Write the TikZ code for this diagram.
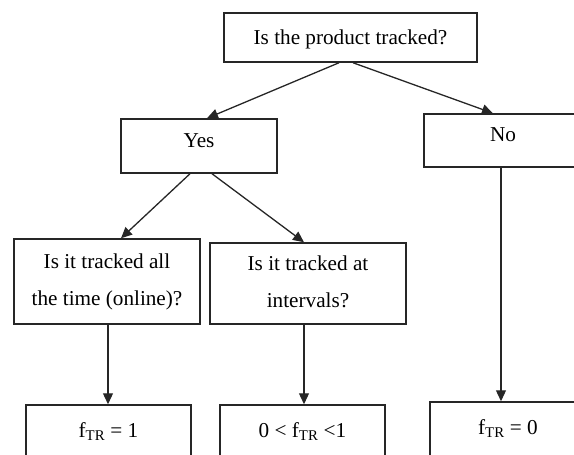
\documentclass[tikz,border=0pt]{standalone}
\usepackage{fontspec}
\setmainfont{Liberation Serif}
\usetikzlibrary{arrows.meta,positioning}

\begin{document}
\begin{tikzpicture}
  [
  x=1pt,y=-1pt,
  box/.style={rectangle,draw=black!85,line width=1.5pt,inner sep=0pt,
    font=\fontsize{21.2}{37}\selectfont,align=center},
  single/.style={box,text height=14pt,text depth=0pt},
  raised/.style={box,text height=14pt,text depth=12pt},
  result/.style={box,text height=14pt,text depth=10pt,minimum height=60pt},
  question/.style={box,text depth=4pt},
  link/.style={-{Triangle[length=11pt,width=10pt]},line width=1.3pt,draw=black!85}
  ]
  \useasboundingbox (0,0) rectangle (574,455);
  \clip (0,0) rectangle (574,455);
  \node[single,minimum width=253pt,minimum height=49pt] (tracked) at (350.5,37.5) {Is the product tracked?};
  \node[raised,minimum width=156pt,minimum height=54pt] (yes) at (199,146) {Yes};
  \node[raised,minimum width=158pt,minimum height=53pt] (no) at (503,140.5) {No};
  \node[question,minimum width=186pt,minimum height=85pt] (online) at (107,281.5) {Is it tracked all\\the time (online)?};
  \node[question,minimum width=196pt,minimum height=81pt] (intervals) at (308,283.5) {Is it tracked at\\intervals?};
  \node[result,minimum width=165pt] (one) at (108.5,435) {f\textsubscript{TR} = 1};
  \node[result,minimum width=165pt] (between) at (302.5,435) {0 < f\textsubscript{TR} <1};
  \node[result,minimum width=156pt] (zero) at (508,432) {f\textsubscript{TR} = 0};
  \draw[link] ([xshift=-11.5pt]tracked.south) -- ([xshift=8pt]yes.north);
  \draw[link] ([xshift=2.5pt]tracked.south) -- ([xshift=-10pt]no.north);
  \draw[link] ([xshift=-9pt]yes.south) -- ([xshift=14pt]online.north);
  \draw[link] ([xshift=13pt]yes.south) -- ([xshift=-4pt]intervals.north);
  \draw[link] ([xshift=1pt]online.south) -- ([xshift=1pt]online.south |- one.north);
  \draw[link] ([xshift=-4pt]intervals.south) -- ([xshift=-4pt]intervals.south |- between.north);
  \draw[link] ([xshift=-2pt]no.south) -- ([xshift=-2pt]no.south |- zero.north);
\end{tikzpicture}
\end{document}
